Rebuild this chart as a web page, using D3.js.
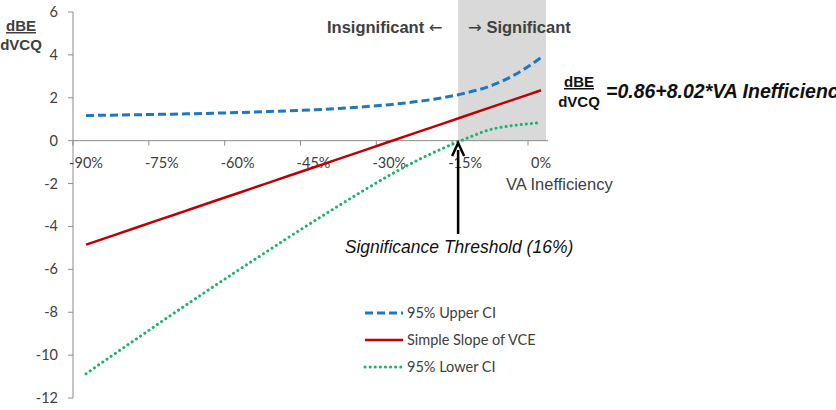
<!DOCTYPE html>
<html>
<head>
<meta charset="utf-8">
<script src="https://cdn.jsdelivr.net/npm/d3@7"></script>
<style>
  body { margin: 0; background: #fff; }
  svg { display: block; }
</style>
</head>
<body>
<svg id="chart" width="836" height="410"></svg>
<script>
// moderator values (VA inefficiency) and the three lines
var xValues = [-0.90, -0.85, -0.80, -0.75, -0.70, -0.65, -0.60, -0.55, -0.50, -0.45,
               -0.40, -0.35, -0.30, -0.25, -0.20, -0.15, -0.10, -0.05, 0.00];
var upperCI = [1.17, 1.19, 1.21, 1.23, 1.25, 1.28, 1.31, 1.35, 1.39, 1.44,
               1.50, 1.58, 1.68, 1.81, 1.98, 2.22, 2.55, 3.10, 3.87];
var slope   = [-4.85, -4.45, -4.05, -3.65, -3.25, -2.85, -2.45, -2.05, -1.65, -1.25,
               -0.85, -0.45, -0.05, 0.35, 0.75, 1.15, 1.55, 1.95, 2.35];
var lowerCI = [-10.87, -10.05, -9.24, -8.43, -7.63, -6.84, -6.06, -5.29, -4.52, -3.77,
               -3.03, -2.31, -1.62, -0.98, -0.42, 0.08, 0.52, 0.72, 0.84];

var xTicks = [-0.90, -0.75, -0.60, -0.45, -0.30, -0.15, 0];
var yTicks = [-12, -10, -8, -6, -4, -2, 0, 2, 4, 6];
var threshold = -0.16;

var series = [
  { name: "95% Upper CI", values: upperCI, color: "#1f77c4", dash: "8,4", width: 3, cap: "butt" },
  { name: "Simple Slope of VCE", values: slope, color: "#c00000", dash: null, width: 2.5, cap: "butt" },
  { name: "95% Lower CI", values: lowerCI, color: "#1db36a", dash: "0.1,5", width: 3, cap: "round" }
];

var svg = d3.select("#chart");

var x = d3.scaleLinear().domain([-0.9, 0]).range([86, 541]);
var y = d3.scaleLinear().domain([-12, 6]).range([398, 12]);
var tickShift = 13; // tick marks sit a bit left of the label / data positions
var axisColor = "#8c8c8c";
var textColor = "#404040";
var tickFont = "Lato, 'Open Sans', sans-serif";
var arial = "'Liberation Sans', Arial, sans-serif";

// shaded "significant" zone
svg.append("rect")
    .attr("x", x(threshold) - 2)
    .attr("y", 0)
    .attr("width", 546 - (x(threshold) - 2))
    .attr("height", y(0))
    .attr("fill", "#d9d9d9");

// y axis
var yAxis = svg.append("g");
yAxis.append("line")
    .attr("x1", 73).attr("x2", 73)
    .attr("y1", y(6)).attr("y2", y(-12))
    .attr("stroke", axisColor);
yAxis.selectAll(".yt")
    .data(yTicks)
    .enter()
    .append("line")
    .attr("x1", 68).attr("x2", 73)
    .attr("y1", d => y(d)).attr("y2", d => y(d))
    .attr("stroke", axisColor);
yAxis.selectAll(".yl")
    .data(yTicks)
    .enter()
    .append("text")
    .attr("x", 58)
    .attr("y", d => y(d) + 5)
    .attr("text-anchor", "end")
    .attr("font-family", tickFont)
    .attr("font-size", 14.5)
    .attr("fill", textColor)
    .text(d => d);

// x axis along zero
var xAxis = svg.append("g");
xAxis.append("line")
    .attr("x1", 73).attr("x2", 548)
    .attr("y1", y(0)).attr("y2", y(0))
    .attr("stroke", axisColor);
xAxis.selectAll(".xt")
    .data(xTicks)
    .enter()
    .append("line")
    .attr("x1", d => x(d) - tickShift).attr("x2", d => x(d) - tickShift)
    .attr("y1", y(0)).attr("y2", y(0) + 5)
    .attr("stroke", axisColor);
xAxis.selectAll(".xl")
    .data(xTicks)
    .enter()
    .append("text")
    .attr("x", d => x(d))
    .attr("y", y(0) + 27)
    .attr("text-anchor", "middle")
    .attr("font-family", tickFont)
    .attr("font-size", 14.5)
    .attr("fill", textColor)
    .text(d => Math.round(d * 100) + "%");

svg.append("text")
    .attr("x", 506).attr("y", 190)
    .attr("font-family", arial)
    .attr("font-size", 16.5)
    .attr("fill", textColor)
    .text("VA Inefficiency");

// lines
var line = d3.line()
    .x((d, i) => x(xValues[i]))
    .y(d => y(d))
    .curve(d3.curveMonotoneX);

series.forEach(function(s) {
    svg.append("path")
        .datum(s.values)
        .attr("d", line)
        .attr("fill", "none")
        .attr("stroke", s.color)
        .attr("stroke-width", s.width)
        .attr("stroke-dasharray", s.dash)
        .attr("stroke-linecap", s.cap);
});

// y label (fraction)
svg.append("text")
    .attr("x", 21).attr("y", 31)
    .attr("text-anchor", "middle")
    .attr("font-family", arial).attr("font-weight", "bold")
    .attr("font-size", 15).attr("fill", textColor)
    .attr("text-decoration", "underline")
    .text("dBE");
svg.append("text")
    .attr("x", 21).attr("y", 50)
    .attr("text-anchor", "middle")
    .attr("font-family", arial).attr("font-weight", "bold")
    .attr("font-size", 15).attr("fill", textColor)
    .text("dVCQ");

// zone labels
var ins = svg.append("text")
    .attr("x", 327).attr("y", 33)
    .attr("font-family", arial).attr("font-weight", "bold")
    .attr("font-size", 16.5).attr("fill", "#404040");
ins.append("tspan").text("Insignificant ");
ins.append("tspan").attr("font-family", "'DejaVu Sans', sans-serif")
    .attr("font-weight", "normal").text("\u2190");
var sig = svg.append("text")
    .attr("x", 468).attr("y", 33)
    .attr("font-family", arial).attr("font-weight", "bold")
    .attr("font-size", 16.5).attr("fill", "#404040");
sig.append("tspan").attr("font-family", "'DejaVu Sans', sans-serif")
    .attr("font-weight", "normal").text("\u2192");
sig.append("tspan").text(" Significant");

// equation
svg.append("text")
    .attr("x", 579).attr("y", 87)
    .attr("text-anchor", "middle")
    .attr("font-family", arial).attr("font-weight", "bold")
    .attr("font-size", 15).attr("fill", "#111")
    .attr("text-decoration", "underline")
    .text("dBE");
svg.append("text")
    .attr("x", 579).attr("y", 107)
    .attr("text-anchor", "middle")
    .attr("font-family", arial).attr("font-weight", "bold")
    .attr("font-size", 15).attr("fill", "#111")
    .text("dVCQ");
svg.append("text")
    .attr("x", 606).attr("y", 98)
    .attr("font-family", arial).attr("font-weight", "bold")
    .attr("font-style", "italic")
    .attr("font-size", 19.5).attr("fill", "#111")
    .text("=0.86+8.02*VA Inefficiency");

// threshold arrow
var ax = x(threshold) - 2;
svg.append("line")
    .attr("x1", ax).attr("x2", ax)
    .attr("y1", 234).attr("y2", 150)
    .attr("stroke", "#000").attr("stroke-width", 2.5);
svg.append("path")
    .attr("d", "M" + (ax - 6) + ",156 L" + ax + ",143 L" + (ax + 6) + ",156")
    .attr("fill", "none").attr("stroke", "#000").attr("stroke-width", 2.5);

svg.append("text")
    .attr("x", 459).attr("y", 253)
    .attr("text-anchor", "middle")
    .attr("font-family", arial).attr("font-style", "italic")
    .attr("font-size", 17.5).attr("fill", "#111")
    .text("Significance Threshold (16%)");

// legend
var legend = svg.append("g");
series.forEach(function(s, i) {
    var ly = 313 + i * 27;
    legend.append("line")
        .attr("x1", 365).attr("x2", 403)
        .attr("y1", ly).attr("y2", ly)
        .attr("stroke", s.color)
        .attr("stroke-width", s.width)
        .attr("stroke-dasharray", s.dash)
        .attr("stroke-linecap", s.cap);
    legend.append("text")
        .attr("x", 407).attr("y", ly + 5)
        .attr("font-family", tickFont)
        .attr("font-size", 14.5)
        .attr("fill", textColor)
        .text(s.name);
});
</script>
</body>
</html>
